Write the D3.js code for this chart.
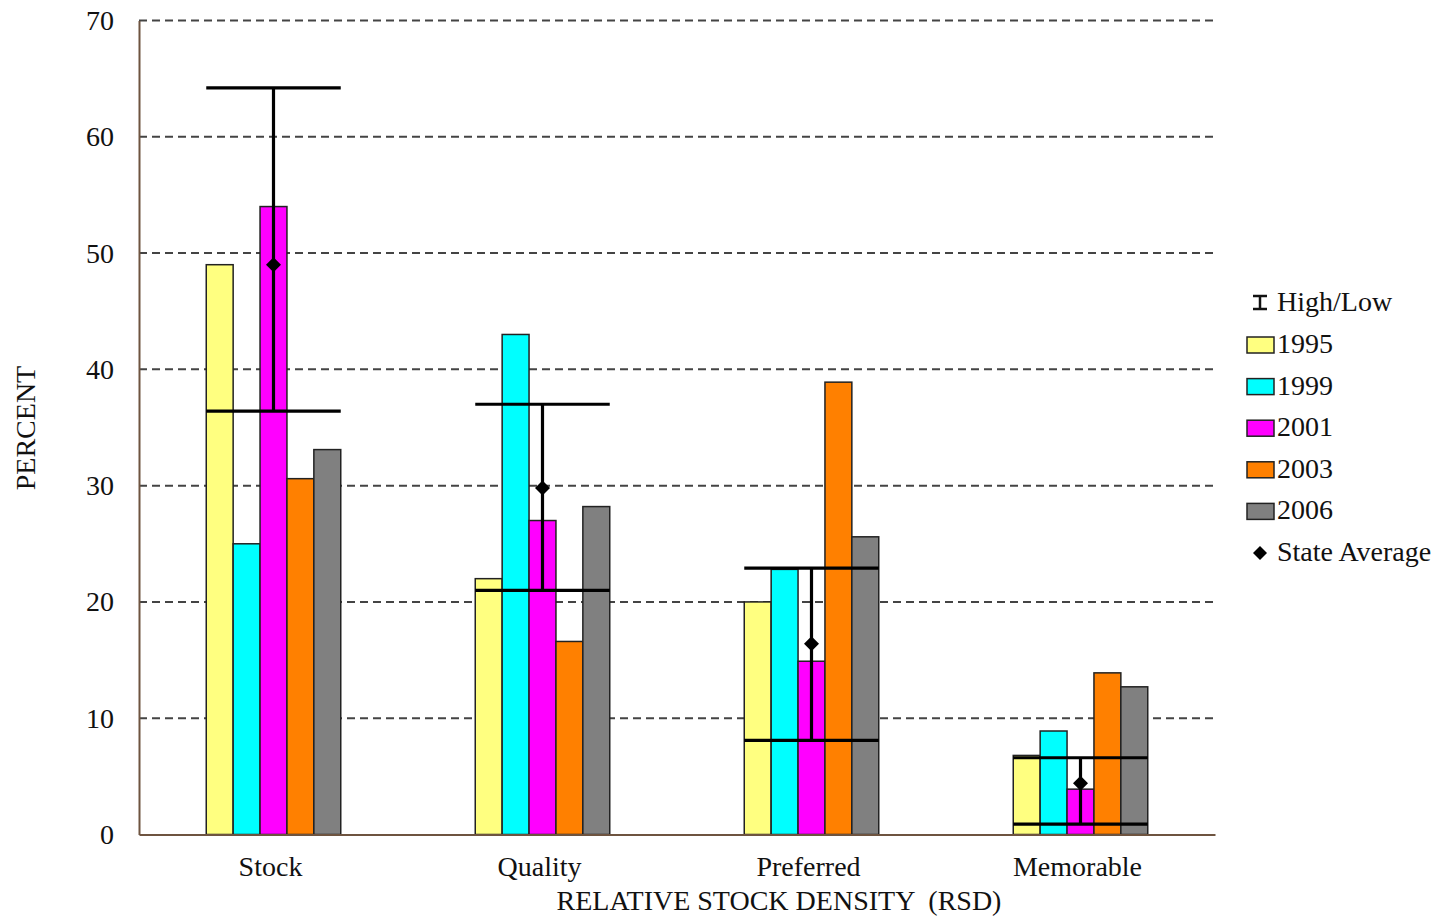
<!DOCTYPE html>
<html>
<head>
<meta charset="utf-8">
<script src="https://cdn.jsdelivr.net/npm/d3@7"></script>
<style>
  html, body { margin: 0; padding: 0; background: #ffffff; }
  svg { display: block; }
  text { font-family: "Liberation Serif", "Times New Roman", serif; fill: #111; }
</style>
</head>
<body>
<svg id="chart" width="1439" height="916"></svg>
<script>
// Size-structure categories (RSD)
const categories = ["Stock", "Quality", "Preferred", "Memorable"];

// Survey years and their percentages per category
const years = ["1995", "1999", "2001", "2003", "2006"];
const values1995 = [49.0, 22.0, 20.0, 6.8];
const values1999 = [25.0, 43.0, 22.8, 8.9];
const values2001 = [54.0, 27.0, 14.9, 3.9];
const values2003 = [30.6, 16.6, 38.9, 13.9];
const values2006 = [33.1, 28.2, 25.6, 12.7];

// Statewide range and mean
const highValues = [64.2, 37.0, 22.9, 6.6];
const lowValues = [36.4, 21.0, 8.1, 0.9];
const stateAverage = [49.0, 29.8, 16.4, 4.4];

const yTicks = [0, 10, 20, 30, 40, 50, 60, 70];

const yearColors = ["#FFFF80", "#00FFFF", "#FF00FF", "#FF8000", "#808080"];
const seriesValues = [values1995, values1999, values2001, values2003, values2006];

const svg = d3.select("#chart");
const plot = { left: 139, right: 1215, top: 20.5, bottom: 834.5 };
const axisColor = "#6e5440";
const fontSize = 28;

const x0 = d3.scaleBand()
  .domain(categories)
  .range([plot.left, plot.right])
  .paddingInner(0.5)
  .paddingOuter(0.25);

const x1 = d3.scaleBand()
  .domain(years)
  .range([0, x0.bandwidth()]);

const y = d3.scaleLinear().domain([0, 70]).range([plot.bottom, plot.top]);

const color = d3.scaleOrdinal().domain(years).range(yearColors);

// Diamond marker: a square turned by 45 degrees
const diamondPath = r => `M0,${-r}L${r},0L0,${r}L${-r},0Z`;

// Dashed gridlines
svg.append("g")
  .selectAll("line")
  .data(yTicks.filter(d => d > 0))
  .join("line")
  .attr("x1", plot.left)
  .attr("x2", plot.right)
  .attr("y1", d => y(d))
  .attr("y2", d => y(d))
  .attr("stroke", "#444")
  .attr("stroke-width", 2)
  .attr("stroke-dasharray", "8,5");

// Y axis with tick labels
const yAxis = d3.axisLeft(y).tickValues(yTicks).tickSize(0).tickPadding(25);
const yG = svg.append("g")
  .attr("transform", `translate(${plot.left},0)`)
  .call(yAxis);
yG.select(".domain").attr("stroke", axisColor).attr("stroke-width", 2);
yG.selectAll("text")
  .attr("font-family", "Liberation Serif, Times New Roman, serif")
  .attr("font-size", fontSize)
  .attr("fill", "#111");

// Bars
const rows = categories.map((c, i) => ({
  category: c,
  bars: years.map((yr, j) => ({ year: yr, value: seriesValues[j][i] }))
}));

const groups = svg.append("g")
  .selectAll("g")
  .data(rows)
  .join("g")
  .attr("transform", d => `translate(${x0(d.category)},0)`);

groups.selectAll("rect")
  .data(d => d.bars)
  .join("rect")
  .attr("x", d => x1(d.year))
  .attr("width", x1.bandwidth())
  .attr("y", d => y(d.value))
  .attr("height", d => y(0) - y(d.value))
  .attr("fill", d => color(d.year))
  .attr("stroke", "#222")
  .attr("stroke-width", 1.5);

// X axis baseline and category labels
const xAxis = d3.axisBottom(x0).tickSize(0).tickPadding(22);
const xG = svg.append("g")
  .attr("transform", `translate(0,${plot.bottom})`)
  .call(xAxis);
xG.select(".domain").attr("stroke", axisColor).attr("stroke-width", 2);
xG.selectAll("text")
  .attr("font-family", "Liberation Serif, Times New Roman, serif")
  .attr("font-size", fontSize)
  .attr("fill", "#111")
  .attr("dx", "-3");

// High/Low range markers
const ranges = categories.map((c, i) => ({
  category: c, high: highValues[i], low: lowValues[i], avg: stateAverage[i]
}));
const hl = svg.append("g").attr("stroke", "#000").attr("stroke-width", 3.2);
ranges.forEach(d => {
  const left = x0(d.category);
  const right = left + x0.bandwidth();
  const mid = left + x0.bandwidth() / 2;
  hl.append("line").attr("x1", left).attr("x2", right).attr("y1", y(d.high)).attr("y2", y(d.high));
  hl.append("line").attr("x1", left).attr("x2", right).attr("y1", y(d.low)).attr("y2", y(d.low));
  hl.append("line").attr("x1", mid).attr("x2", mid).attr("y1", y(d.high)).attr("y2", y(d.low));
});

// State average markers
svg.append("g")
  .selectAll("path")
  .data(ranges)
  .join("path")
  .attr("d", diamondPath(7.5))
  .attr("transform", d => `translate(${x0(d.category) + x0.bandwidth() / 2},${y(d.avg)})`)
  .attr("fill", "#000");

// Axis titles
svg.append("text")
  .attr("transform", `translate(35,428) rotate(-90)`)
  .attr("text-anchor", "middle")
  .attr("font-size", fontSize)
  .text("PERCENT");

svg.append("text")
  .attr("x", 779)
  .attr("y", 910)
  .attr("text-anchor", "middle")
  .attr("font-size", fontSize)
  .style("white-space", "pre")
  .text("RELATIVE STOCK DENSITY  (RSD)");

// Legend
const legend = svg.append("g").attr("transform", "translate(1247,0)");
// High/Low entry
const iconX = 13;
const hlIcon = legend.append("g").attr("stroke", "#111").attr("stroke-width", 2.5);
hlIcon.append("line").attr("x1", iconX - 7).attr("x2", iconX + 7).attr("y1", 296).attr("y2", 296);
hlIcon.append("line").attr("x1", iconX - 7).attr("x2", iconX + 7).attr("y1", 309).attr("y2", 309);
hlIcon.append("line").attr("x1", iconX).attr("x2", iconX).attr("y1", 296).attr("y2", 309);
legend.append("text").attr("x", 30).attr("y", 311).attr("font-size", fontSize).text("High/Low");

const legendYears = legend.selectAll("g.yr")
  .data(years)
  .join("g")
  .attr("class", "yr")
  .attr("transform", (d, i) => `translate(0,${353 + i * 41.6})`);
legendYears.append("rect")
  .attr("x", 0).attr("y", -16).attr("width", 27).attr("height", 16)
  .attr("fill", d => color(d))
  .attr("stroke", "#222").attr("stroke-width", 1.5);
legendYears.append("text")
  .attr("x", 30).attr("y", 0)
  .attr("font-size", fontSize)
  .text(d => d);

legend.append("path")
  .attr("d", diamondPath(7))
  .attr("transform", "translate(13,553)")
  .attr("fill", "#000");
legend.append("text").attr("x", 30).attr("y", 561).attr("font-size", fontSize).text("State Average");
</script>
</body>
</html>
